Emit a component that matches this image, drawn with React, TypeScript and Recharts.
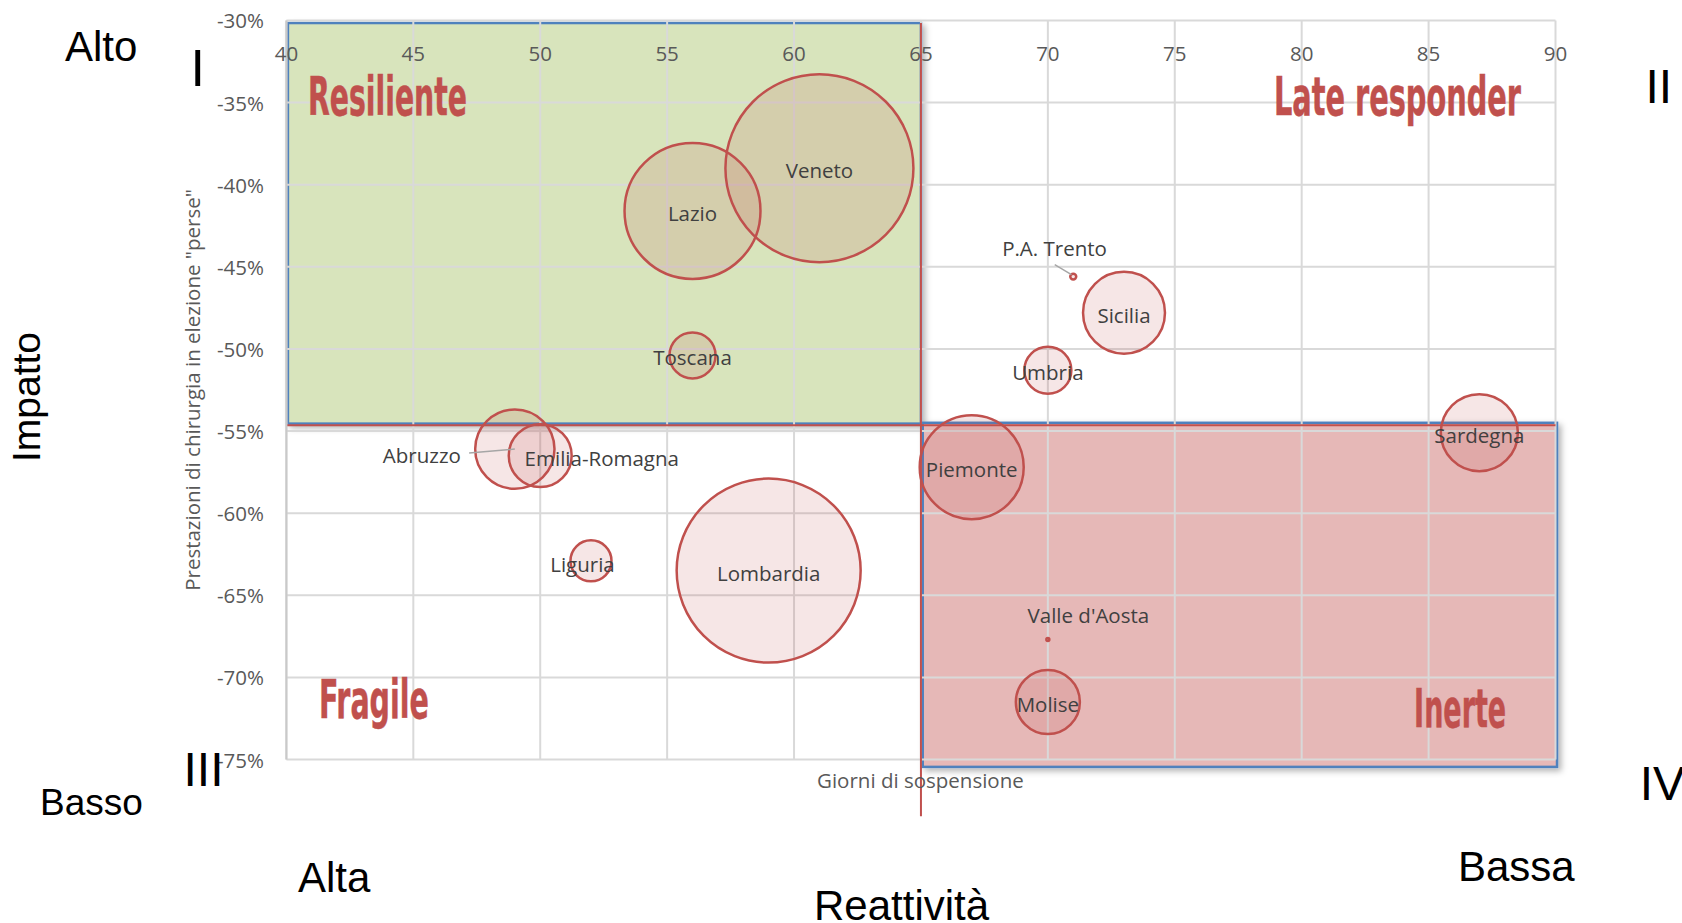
import React from 'react';
import {
  ScatterChart,
  Scatter,
  XAxis,
  YAxis,
  ZAxis,
  CartesianGrid,
  ReferenceArea,
  ReferenceLine,
  ReferenceDot,
  LabelList,
} from 'recharts';

if (typeof document !== 'undefined') {
  document.body.style.margin = '0';
  document.body.style.overflow = 'hidden';
}

// ---------------- DATA ----------------
const regions = [
  'Veneto',
  'Lombardia',
  'Lazio',
  'Piemonte',
  'Sicilia',
  'Abruzzo',
  'Sardegna',
  'Molise',
  'Emilia-Romagna',
  'Umbria',
  'Toscana',
  'Liguria',
  'P.A. Trento',
  "Valle d'Aosta",
];
// Giorni di sospensione
const suspensionDays = [61, 59, 56, 67, 73, 49, 87, 70, 50, 70, 56, 52, 71, 70];
// Prestazioni di chirurgia in elezione "perse" (%)
const lostSurgeryPct = [-39.0, -63.5, -41.6, -57.2, -47.8, -56.1, -55.1, -71.5, -56.5, -51.3, -50.4, -62.9, -45.6, -67.7];
// bubble size (relative, Veneto = 100)
const bubbleSize = [100, 95.8, 52.3, 30.6, 19.0, 17.8, 16.8, 11.6, 11.2, 6.25, 6.0, 4.76, 0.1, 0.025];

const xTicks = [40, 45, 50, 55, 60, 65, 70, 75, 80, 85, 90];
const yTicks = [-75, -70, -65, -60, -55, -50, -45, -40, -35, -30];

const X_SPLIT = 65;
const Y_SPLIT = -54.65;

const quadrantTitles = ['Resiliente', 'Late responder', 'Fragile', 'Inerte'];

const data = regions.map((name, i) => ({
  name,
  x: suspensionDays[i],
  y: lostSurgeryPct[i],
  z: bubbleSize[i],
}));

// ---------------- LAYOUT / STYLE ----------------
const W = 1682;
const H = 923;
const PLOT_LEFT = 286.4;
const PLOT_TOP = 20.4;
const MARGIN = { top: PLOT_TOP - 1, right: 126.5, bottom: 163.5, left: PLOT_LEFT - 1 };
const Z_MAX_RADIUS = 94;

const CAL = "'Open Sans', 'Noto Sans', sans-serif";
const ARIAL = "'Liberation Sans', Arial, sans-serif";
const COND = "'Liberation Sans Narrow', 'DejaVu Sans Condensed', 'Liberation Sans', sans-serif";
const RED = '#c0504d';
const TEXT = '#404040';
const TICK = '#595959';

// anchor (data coordinates of text baseline-left) and target width of the quadrant titles
const quadrantLayout = [
  { x: 40.85, y: -35.76, w: 159 },
  { x: 78.91, y: -35.76, w: 247 },
  { x: 41.28, y: -72.48, w: 110 },
  { x: 84.43, y: -73.03, w: 92 },
];

type LabelPos = { dx: number; dy: number; anchor?: 'start' | 'middle' | 'end'; leader?: [number, number, number, number] };
const labelLayout: Record<string, LabelPos> = {
  Liguria: { dx: -8.5, dy: 3.5 },
  'Emilia-Romagna': { dx: -15.6, dy: 2, anchor: 'start' },
  Abruzzo: { dx: -54, dy: 5.5, anchor: 'end', leader: [-45.7, 4, 0, 0] },
  'P.A. Trento': { dx: -18.7, dy: -28.7, leader: [-18.5, -12, -1.8, -2] },
  "Valle d'Aosta": { dx: 40.5, dy: -24.6 },
};

const XTick = (p: any) => (
  <text
    x={p.x}
    y={PLOT_TOP + 32.4}
    textAnchor="middle"
    dominantBaseline="central"
    fontFamily={CAL}
    fontSize={20.5}
    fill={TICK}
  >
    {p.payload.value}
  </text>
);

const YTick = (p: any) => (
  <text
    x={PLOT_LEFT - 22.5}
    y={p.y}
    textAnchor="end"
    dominantBaseline="central"
    fontFamily={CAL}
    fontSize={20.5}
    fill={TICK}
  >
    {`${p.payload.value}%`}
  </text>
);

const Bubble = (p: any) => {
  const r = p.width != null ? p.width / 2 : Math.sqrt(Math.max(p.size || 0, 0) / Math.PI);
  return (
    <circle
      cx={p.cx}
      cy={p.cy}
      r={r}
      fill={RED}
      fillOpacity={0.14}
      stroke={RED}
      strokeWidth={2.5}
    />
  );
};

const BubbleLabel = (p: any) => {
  const vb = p.viewBox || p;
  const cx = (vb.x ?? 0) + (vb.width ?? 0) / 2;
  const cy = (vb.y ?? 0) + (vb.height ?? 0) / 2;
  const name = String(p.value);
  const lay = labelLayout[name] || { dx: 0, dy: 2 };
  return (
    <g>
      {lay.leader && (
        <line
          x1={cx + lay.leader[0]}
          y1={cy + lay.leader[1]}
          x2={cx + lay.leader[2]}
          y2={cy + lay.leader[3]}
          stroke="#a6a6a6"
          strokeWidth={1.5}
        />
      )}
      <text
        x={cx + lay.dx}
        y={cy + lay.dy}
        textAnchor={lay.anchor || 'middle'}
        dominantBaseline="central"
        fontFamily={CAL}
        fontSize={20.5}
        fill={TEXT}
      >
        {name}
      </text>
    </g>
  );
};

const QuadRect = (fill: string, id: string) => (p: any) => (
  <g>
    <defs>
      <filter id={id} x="-5%" y="-5%" width="112%" height="115%">
        <feDropShadow dx="3" dy="3" stdDeviation="3" floodColor="#000" floodOpacity="0.3" />
      </filter>
    </defs>
    <rect
      x={p.x}
      y={p.y}
      width={p.width}
      height={p.height}
      fill={fill}
      stroke="#4f81bd"
      strokeWidth={2.5}
      filter={`url(#${id})`}
    />
  </g>
);

const quadLabel = (text: string, w: number) => (lp: any) => {
  const vb = lp.viewBox || lp;
  return (
    <text
      x={vb.x}
      y={vb.y}
      textLength={w}
      lengthAdjust="spacingAndGlyphs"
      fontFamily={COND}
      fontWeight={700}
      fontSize={53}
      fill={RED}
      stroke={RED}
      strokeWidth={0.5}
    >
      {text}
    </text>
  );
};

export default function App() {
  return (
    <div style={{ position: 'relative', width: W, height: H, overflow: 'hidden', background: '#fff' }}>
      <ScatterChart width={W} height={H} margin={MARGIN}>
        <XAxis
          type="number"
          dataKey="x"
          orientation="top"
          height={1}
          domain={[40, 90]}
          ticks={xTicks}
          interval={0}
          allowDataOverflow
          axisLine={false}
          tickLine={false}
          tick={XTick}
        />
        <YAxis
          type="number"
          dataKey="y"
          width={1}
          domain={[-75, -30]}
          ticks={yTicks}
          interval={0}
          allowDataOverflow
          axisLine={{ stroke: '#c9c9c9', strokeWidth: 2 }}
          tickLine={false}
          tick={YTick}
        />
        <ZAxis type="number" dataKey="z" domain={[0, 100]} range={[0, Math.PI * Z_MAX_RADIUS * Z_MAX_RADIUS]} />
        <ReferenceArea
          x1={40.06}
          x2={X_SPLIT}
          y1={Y_SPLIT + 0.1}
          y2={-30.16}
          ifOverflow="visible"
          shape={QuadRect('#d8e4bc', 'shGreen')}
          zIndex={-200}
        />
        <ReferenceArea
          x1={X_SPLIT + 0.07}
          x2={90.06}
          y1={-75.45}
          y2={Y_SPLIT + 0.15}
          ifOverflow="visible"
          shape={QuadRect('#e6b8b7', 'shRed')}
          zIndex={-200}
        />
        <CartesianGrid stroke="#d9d9d9" strokeWidth={2} />
        <ReferenceLine y={Y_SPLIT} stroke={RED} strokeWidth={2} ifOverflow="visible" />
        <ReferenceLine
          segment={[
            { x: X_SPLIT, y: -30.16 },
            { x: X_SPLIT, y: -78.45 },
          ]}
          stroke={RED}
          strokeWidth={2}
          ifOverflow="visible"
        />
        {quadrantTitles.map((t, i) => (
          <ReferenceDot
            key={t}
            x={quadrantLayout[i].x}
            y={quadrantLayout[i].y}
            r={0}
            fill="none"
            stroke="none"
            ifOverflow="visible"
            label={quadLabel(t, quadrantLayout[i].w)}
          />
        ))}
        <Scatter data={data} isAnimationActive={false} shape={Bubble}>
          <LabelList dataKey="name" content={BubbleLabel} />
        </Scatter>
      </ScatterChart>
      <svg
        width={W}
        height={H}
        style={{ position: 'absolute', left: 0, top: 0, pointerEvents: 'none' }}
      >
        <text
          x={920.4}
          y={787.7}
          textAnchor="middle"
          fontFamily={CAL}
          fontSize={20.5}
          fill={TICK}
        >
          Giorni di sospensione
        </text>
        <text
          x={200.3}
          y={390}
          transform="rotate(-90 200.3 390)"
          textAnchor="middle"
          fontFamily={CAL}
          fontSize={20.5}
          fill={TICK}
        >
          Prestazioni di chirurgia in elezione "perse"
        </text>
        <g fontFamily={ARIAL} fill="#000">
          <text x={65} y={61} fontSize={42}>Alto</text>
          <text x={190.5} y={85.7} fontSize={52}>I</text>
          <text x={40} y={397} transform="rotate(-90 40 397)" textAnchor="middle" fontSize={39}>Impatto</text>
          <text x={40} y={815} fontSize={37}>Basso</text>
          <text x={183.5} y={785.7} fontSize={48}>III</text>
          <text x={298} y={891.7} fontSize={42}>Alta</text>
          <text x={814} y={920} fontSize={42}>Reattività</text>
          <text x={1458} y={881} fontSize={42}>Bassa</text>
          <text x={1645.5} y={102.7} fontSize={48}>II</text>
          <text x={1639.7} y={800} fontSize={48}>IV</text>
        </g>
      </svg>
    </div>
  );
}
